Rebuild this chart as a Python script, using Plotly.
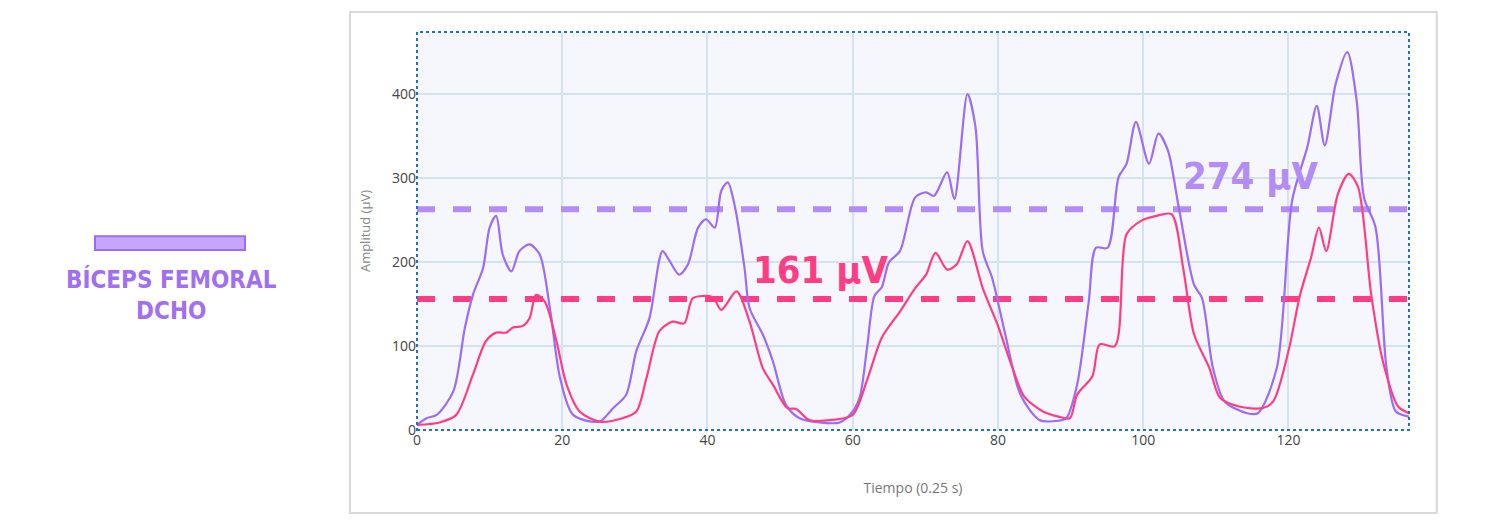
import plotly.graph_objects as go

purple_x = [0,1.3,2.7,5,6.6,7.7,9.1,10,10.9,11.8,13,14.1,15.5,16.9,18.3,19.7,21.5,25.1,27,28.8,30.2,32,33.8,34.8,36.1,37.3,38.7,39.8,41,41.9,42.8,43.8,45.1,45.8,47.6,49,50.8,52.7,55.4,58.2,60,61,62,63,64,65,
            66.5,68.6,70.1,71.2,73,74,75.8,76.9,77.9,79.2,81,83.1,85.7,88.3,89.4,90.9,92.5,93.5,95.1,96.6,97.7,99,100.8,102.1,103.4,104.9,107,108.1,109.6,111.2,114.3,115.8,118.4,120.5,122.6,123.9,125,126.5,128.1,129.4,130.4,132,133.5,134.8,136.6]
purple_y = [6,14,18,46,122,161,193,241,255,209,189,213,221,209,145,62,18,10,26,42,94,133,213,201,185,197,241,251,241,285,295,265,193,145,114,82,30,14,9,9,22,40,100,160,170,200,
            213,277,283,279,307,275,400,361,213,181,114,42,12,11,14,54,153,217,217,301,317,367,317,353,333,265,173,157,74,34,20,20,74,273,337,386,339,412,450,392,277,241,74,22,16]

pink_x = [0,3.1,5.4,7.7,9.5,10.9,12.3,13.2,14.6,15.5,16.4,17.6,19.2,20.6,22.4,25.1,28.3,30.2,31.6,33.4,35.2,36.8,38,40.7,41.9,44,45.8,47.6,49,51,52.2,54,57.2,60,62,64,
          66.5,68.6,70.1,71.4,73,74.3,75.8,77.9,80,82,83.6,86.2,88.3,89.9,90.9,93,94,96.1,97.7,99.7,101.8,103.9,105.5,107,109.1,110.6,113.2,116.4,117.9,120,121.6,123.1,124.2,125.2,126.8,128.3,129.6,131.4,133,135.1,136.6]
pink_y = [6,9,18,66,106,116,116,122,124,133,161,153,106,54,22,10,14,22,62,118,129,127,157,158,143,165,129,74,54,26,25,12,12,18,60,110,
          141,169,185,211,191,197,225,169,124,74,40,22,16,14,42,64,102,100,233,249,255,257,193,114,74,38,28,26,34,94,161,205,241,213,281,305,289,161,82,28,20]

x_span = [0, 136.6]
purple_mean = 263
pink_mean = 156
purple_label = "274 μV"
pink_label = "161 μV"
PURPLE = "#9b6cf7"
PINK = "#ff3d84"
COND = "DejaVu Sans Condensed, Roboto Condensed, Roboto"

fig = go.Figure()
fig.add_trace(go.Scatter(x=x_span, y=[purple_mean]*2, mode="lines",
                         line=dict(color="#b48cf5", width=6, dash="dash"), hoverinfo="skip"))
fig.add_trace(go.Scatter(x=x_span, y=[pink_mean]*2, mode="lines",
                         line=dict(color="#ff3d84", width=6, dash="dash"), hoverinfo="skip"))
fig.add_trace(go.Scatter(x=purple_x, y=purple_y, mode="lines",
                         line=dict(color=PURPLE, width=2.2, shape="spline", smoothing=0.8)))
fig.add_trace(go.Scatter(x=pink_x, y=pink_y, mode="lines",
                         line=dict(color=PINK, width=2.2, shape="spline", smoothing=0.8)))

fig.update_layout(
    width=1489, height=524, showlegend=False,
    margin=dict(l=409, r=88, t=24, b=102),
    paper_bgcolor="white", plot_bgcolor="#f5f7fc",
    font=dict(family="Open Sans, Arial", color="#444"),
    xaxis=dict(range=x_span, dtick=20, showgrid=True, gridcolor="#d3e3f0", gridwidth=1.5,
               zeroline=False, tickfont=dict(size=14, color="#444"),
               title=dict(text="Tiempo (0.25 s)", font=dict(size=14, color="#777"), standoff=35)),
    yaxis=dict(range=[0, 474], dtick=100, showgrid=True, gridcolor="#d3e3f0", gridwidth=1.5,
               zeroline=False, tickfont=dict(size=14, color="#444"),
               title=dict(text="Amplitud (μV)", font=dict(size=13, color="#888"), standoff=18)),
    shapes=[
        dict(type="rect", xref="paper", yref="paper", x0=-0.0675, x1=1.028, y0=-0.2085, y1=1.05,
             line=dict(color="#d8d8d8", width=2), layer="below"),
        dict(type="rect", xref="paper", yref="paper", x0=0, x1=1, y0=0, y1=1,
             line=dict(color="#1f6fd0", width=2, dash="dot")),
        dict(type="rect", xref="paper", yref="paper", x0=-0.3246, x1=-0.1734, y0=0.452, y1=0.487,
             fillcolor="#c7a6ff", line=dict(color="#9b6cf7", width=2)),
    ],
    annotations=[
        dict(text="<b>BÍCEPS FEMORAL<br>DCHO</b>", xref="paper", yref="paper", x=-0.247, y=0.42,
             xanchor="center", yanchor="top", showarrow=False,
             font=dict(family=COND, size=24, color="#a070f0")),
        dict(text="<b>" + pink_label + "</b>", x=55.5, y=190, xanchor="center", yanchor="middle",
             showarrow=False, font=dict(family=COND, size=38, color="#ff3d84")),
        dict(text="<b>" + purple_label + "</b>", x=114.8, y=303, xanchor="center", yanchor="middle",
             showarrow=False, font=dict(family=COND, size=38, color="#b48cf5")),
    ],
)
fig.write_html("out.html")
